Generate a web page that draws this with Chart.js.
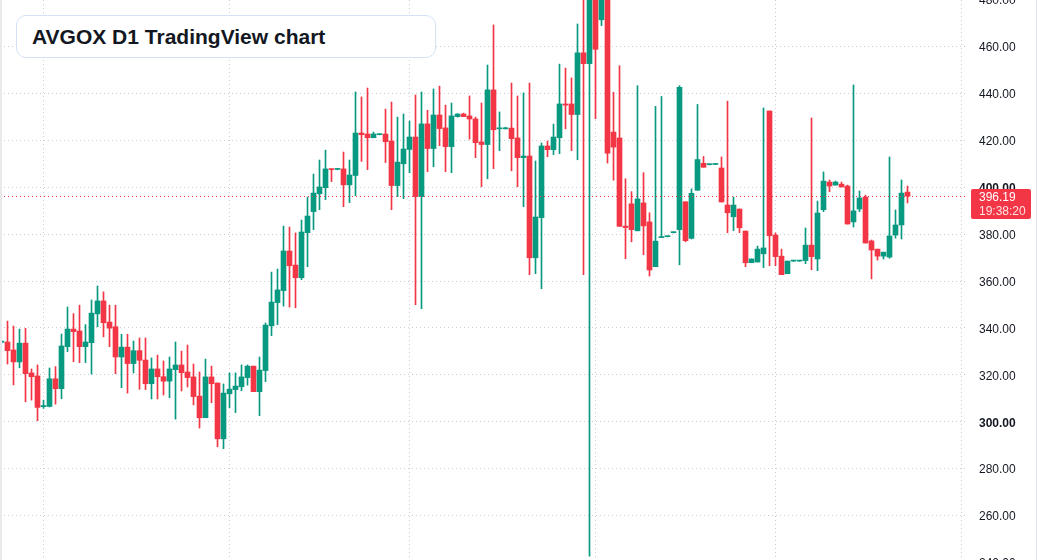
<!DOCTYPE html>
<html>
<head>
<meta charset="utf-8">
<script src="https://cdn.jsdelivr.net/npm/chart.js@4.4.1/dist/chart.umd.min.js"></script>
<style>
  html, body { margin:0; padding:0; background:#ffffff; width:1037px; height:560px; overflow:hidden; }
  #wrap { position:absolute; left:0; top:-40px; width:1037px; height:640px; }
  #title { position:absolute; left:16px; top:15px; width:420px; height:43px; box-sizing:border-box;
           border:1px solid #d3e2f7; border-radius:10px; background:#ffffff;
           font-family:"Liberation Sans", Arial, sans-serif; font-weight:bold; font-size:21px;
           color:#131722; line-height:41px; padding-left:15px; white-space:nowrap; }
  #edgeL { position:absolute; left:0; top:0; width:2px; height:560px; background:#e9e9ec; }
  #edgeR { position:absolute; right:0; top:0; width:1px; height:560px; background:#e0e3eb; }
</style>
</head>
<body>
<div id="wrap"><canvas id="c" width="1037" height="640"></canvas></div>
<div id="title">AVGOX D1 TradingView chart</div>
<div id="edgeL"></div>
<div id="edgeR"></div>
<script>
// ---- data (daily candles, oldest first) ----
const open = [
  333.9,334.0,330.6,325.5,333.5,320.8,319.5,306.4,306.5,318.3,
  314.1,332.0,339.5,338.7,332.0,333.7,346.0,351.5,342.5,340.5,
  327.6,331.8,324.8,330.3,326.3,316.2,322.5,319.2,317.3,322.2,
  324.2,321.2,319.1,310.9,301.7,319.1,316.5,292.7,311.9,313.7,
  314.9,318.8,323.7,312.8,321.8,340.9,350.8,355.9,372.8,366.8,
  361.4,380.6,389.6,397.2,399.8,407.8,407.6,407.8,401.0,405.0,
  423.1,422.7,421.1,422.4,422.7,419.7,400.7,410.0,416.1,421.4,
  396.0,427.0,416.5,430.8,425.3,417.3,430.1,431.2,430.4,429.1,
  419.3,418.2,441.5,424.9,424.9,425.2,421.0,412.6,413.3,369.9,
  387.0,417.6,416.0,421.1,435.5,435.5,431.0,457.3,452.7,485.0,
  471.4,482.0,423.5,421.0,383.4,392.9,381.4,393.3,385.2,366.1,
  378.5,378.9,380.6,381.9,393.8,378.2,398.7,410.2,409.6,409.7,
  408.2,392.4,387.4,390.7,381.3,367.8,368.1,371.6,432.5,379.6,
  370.6,363.1,368.5,368.5,368.7,375.3,369.4,390.4,402.2,400.9,
  401.3,400.5,385.2,390.7,395.8,377.1,373.6,370.6,370.2,379.6,
  383.9,397.9
];
const high = [
  334.5,342.9,340.8,339.5,339.8,322.5,324.2,309.2,322.9,323.5,
  337.4,348.9,346.1,349.7,341.4,351.9,357.9,355.4,349.7,349.7,
  337.3,337.3,334.4,335.7,335.7,327.2,328.4,325.9,327.6,334.0,
  330.1,332.7,324.6,321.2,326.7,323.7,316.5,316.1,320.8,320.8,
  324.2,324.2,323.7,327.6,342.1,363.8,365.1,383.4,383.0,380.5,
  386.0,395.8,405.6,411.6,415.8,407.8,407.9,415.0,411.6,440.6,
  438.5,442.3,423.5,422.8,433.3,436.3,429.9,431.2,428.2,439.3,
  440.6,432.8,441.9,443.1,435.0,435.9,431.4,431.6,438.9,429.9,
  435.9,452.1,469.2,432.1,425.6,444.4,438.9,440.2,444.4,411.2,
  418.9,419.7,426.9,452.5,450.8,446.6,469.6,484.0,492.0,490.0,
  486.0,488.0,440.5,451.8,403.6,398.1,443.3,406.2,389.1,434.5,
  438.7,379.2,381.0,443.3,393.8,399.3,435.3,413.1,409.9,409.9,
  412.9,436.7,395.8,390.7,381.3,369.4,374.9,433.8,432.5,380.5,
  373.6,368.5,368.8,368.7,382.6,429.5,394.1,406.5,403.1,402.6,
  402.2,400.9,443.6,398.4,396.6,377.5,373.6,372.3,412.9,390.3,
  403.1,400.5
];
const low = [
  333.5,324.6,315.7,323.0,308.5,309.2,300.4,305.7,306.3,307.5,
  309.8,329.9,325.6,325.2,325.2,320.3,340.5,336.2,332.0,320.5,
  314.5,312.2,320.8,313.8,313.7,309.7,309.7,311.4,310.2,301.1,
  313.1,314.8,307.2,297.3,301.7,308.1,289.3,288.5,306.0,303.9,
  313.2,315.6,312.8,302.6,317.1,336.7,341.4,349.3,348.9,348.6,
  360.6,366.1,381.9,390.4,394.7,402.4,407.4,391.7,393.4,396.4,
  411.0,407.5,421.1,422.3,410.5,390.4,396.0,395.1,406.2,349.9,
  348.2,406.6,408.7,417.7,406.6,406.2,429.9,430.1,420.5,412.6,
  400.2,403.6,407.9,415.6,424.8,407.0,400.2,391.7,362.7,363.1,
  356.7,413.0,413.9,414.3,424.9,415.6,411.7,362.7,242.7,429.2,
  468.9,410.3,403.0,383.3,369.5,376.7,381.4,371.2,362.1,366.1,
  378.5,378.8,380.5,366.9,376.7,377.9,398.7,408.5,409.5,409.6,
  393.7,380.6,381.5,380.6,366.1,367.8,368.1,365.7,366.5,366.5,
  362.7,363.1,368.3,368.4,367.4,364.8,364.4,389.6,398.1,400.9,
  400.1,384.3,383.0,389.6,376.2,360.9,368.9,369.4,369.7,378.3,
  377.9,393.3
];
const close = [
  334.1,330.3,325.5,333.5,320.5,319.2,306.1,306.9,318.3,314.1,
  332.3,339.5,338.4,332.0,334.0,346.3,351.5,342.2,339.9,327.6,
  331.8,324.8,330.3,326.2,316.2,322.5,319.2,317.3,322.5,324.2,
  320.9,318.8,310.7,301.7,319.1,316.2,292.7,312.2,313.9,315.2,
  319.1,323.7,312.8,322.0,341.2,351.0,356.2,372.8,366.5,361.4,
  380.9,387.7,397.5,400.1,407.8,407.5,407.8,401.0,405.2,423.1,
  422.4,421.1,422.7,422.7,419.4,400.7,410.7,416.3,421.4,396.0,
  427.0,416.5,430.8,425.0,417.3,430.4,431.2,430.1,429.1,419.0,
  418.2,441.5,424.5,425.2,425.3,420.7,412.6,413.3,369.9,387.3,
  417.6,416.0,421.4,435.5,435.0,431.0,457.3,452.7,486.0,458.8,
  481.5,414.5,417.1,383.3,382.8,381.9,395.0,383.5,364.7,377.0,
  378.8,379.1,380.9,442.6,377.2,397.4,411.8,408.5,409.8,409.8,
  393.7,389.1,392.4,382.7,367.8,369.4,373.6,374.1,379.3,370.4,
  362.7,368.5,368.6,368.6,375.3,370.4,389.0,402.6,400.5,402.2,
  400.1,384.3,389.9,395.4,376.2,373.2,370.6,372.3,379.2,383.9,
  397.5,396.19
];
const priceTicks = [240, 260, 280, 300, 320, 340, 360, 380, 400, 420, 440, 460, 480];
const monthStarts = [7, 38, 68, 99, 129, 160];   // candle index where each month begins
const lastPrice = 396.19;
const countdown = '19:38:20';

// ---- styling ----
const UP = '#089981', DOWN = '#f23645';
const GRID = '#c9ccd1';
const FONT = '"Liberation Sans", Arial, sans-serif';

const idx = open.map((_, i) => i);
const wicks = idx.map(i => ({ x: i, y: [low[i], high[i]] }));
const bodies = idx.map(i => ({ x: i, y: [Math.min(open[i], close[i]), Math.max(open[i], close[i])] }));
const colors = idx.map(i => close[i] >= open[i] ? UP : DOWN);

const lastPricePlugin = {
  id: 'lastPrice',
  afterDraw(chart) {
    const { ctx, chartArea } = chart;
    const y = Math.round(chart.scales.y.getPixelForValue(lastPrice)) + 0.5;
    ctx.save();
    ctx.strokeStyle = DOWN;
    ctx.lineWidth = 1;
    ctx.setLineDash([1, 3]);
    ctx.beginPath();
    ctx.moveTo(chartArea.left, y);
    ctx.lineTo(chartArea.right, y);
    ctx.stroke();
    ctx.setLineDash([]);
    const bx = chartArea.right + 5, by = y - 7.5, bw = 60, bh = 30;
    ctx.fillStyle = DOWN;
    ctx.beginPath();
    ctx.roundRect(bx, by, bw, bh, 2);
    ctx.fill();
    ctx.font = '12px ' + FONT;
    ctx.textBaseline = 'middle';
    ctx.textAlign = 'left';
    ctx.fillStyle = '#ffffff';
    ctx.fillText(lastPrice.toFixed(2), bx + 8, y + 1.5);
    ctx.fillStyle = 'rgba(255,255,255,0.85)';
    ctx.fillText(countdown, bx + 8, y + 15.5);
    ctx.restore();
  }
};

new Chart(document.getElementById('c'), {
  type: 'bar',
  data: {
    datasets: [
      { data: wicks, backgroundColor: colors, barThickness: 1, grouped: false, order: 2, borderWidth: 0 },
      { data: bodies, backgroundColor: colors, barThickness: 5, grouped: false, order: 1, borderWidth: 0, minBarLength: 1 }
    ]
  },
  options: {
    responsive: false,
    animation: false,
    layout: { padding: 0 },
    plugins: { legend: { display: false }, tooltip: { enabled: false }, title: { display: false } },
    scales: {
      x: {
        type: 'linear', position: 'bottom', min: -0.25, max: 160.75, offset: false,
        grid: { color: GRID, lineWidth: 1, drawTicks: false, offset: false },
        border: { display: false, dash: [1, 3] },
        ticks: { display: false, autoSkip: false },
        afterBuildTicks: s => { s.ticks = monthStarts.map(v => ({ value: v })); },
        afterFit: s => { s.height = 0; s.paddingLeft = 0; s.paddingRight = 0; }
      },
      y: {
        type: 'linear', position: 'right', min: 223.97, max: 496.89,
        grid: { color: GRID, lineWidth: 1, drawTicks: false },
        border: { display: false, dash: [1, 3] },
        ticks: {
          autoSkip: false, padding: 13, color: '#131722', labelOffset: 1.5,
          font: c => ({ family: FONT, size: 12, weight: (c.tick && c.tick.value % 100 === 0) ? 'bold' : 'normal' }),
          callback: v => Number(v).toFixed(2)
        },
        afterBuildTicks: s => { s.ticks = priceTicks.map(v => ({ value: v })); },
        afterFit: s => { s.width = 71; s.paddingTop = 0; s.paddingBottom = 0; }
      }
    }
  },
  plugins: [lastPricePlugin]
});
</script>
</body>
</html>
